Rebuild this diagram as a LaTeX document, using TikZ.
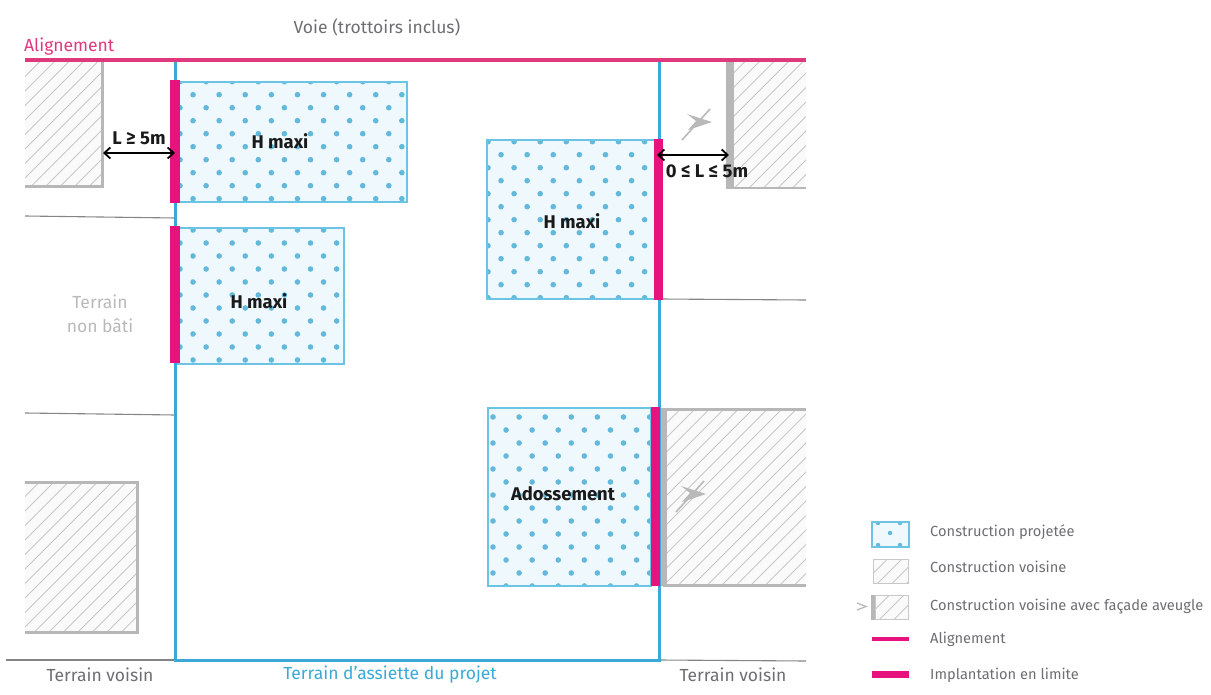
\documentclass[tikz,border=0pt]{standalone}
\usepackage{xcolor}
\usepackage{fontspec}
\setmainfont{Fira Sans}
\usetikzlibrary{arrows.meta}

\definecolor{rosealign}{HTML}{DF387C}
\definecolor{roselimit}{HTML}{E6137F}
\definecolor{bleulimit}{HTML}{3AA9D6}
\definecolor{bleubox}{HTML}{6CC4E4}
\definecolor{bleufill}{HTML}{EFF8FC}
\definecolor{bleudot}{HTML}{63B9DC}
\definecolor{grisbord}{HTML}{B7B7B7}
\definecolor{grishatch}{HTML}{C8C8C8}
\definecolor{gristexte}{HTML}{6D6E71}
\definecolor{grisclair}{HTML}{B9B9B9}
\definecolor{grisligne}{HTML}{858585}
\definecolor{noirtexte}{HTML}{1A1A1A}

\tikzset{
    hatchline/.style={draw=grishatch, line width=1pt},
    limitline/.style={draw=grisligne, line width=1.1pt},
    blockbar/.style={fill=roselimit, draw=none},
    facadebar/.style={fill=grisbord, draw=none},
    grisborder/.style={draw=grisbord, line width=3pt},
    boxlabel/.style={font=\fontsize{18.4}{20}\selectfont\bfseries, text=noirtexte, inner sep=0pt},
    planlabel/.style={font=\fontsize{17.5}{24}\selectfont, text=gristexte, inner sep=0pt},
    legendlabel/.style={font=\fontsize{14.65}{16}\selectfont, text=gristexte, inner sep=0pt, anchor=west},
    dimarrow/.style={draw=black, line width=1.8pt, {Straight Barb[length=6pt,width=11pt]}-{Straight Barb[length=6pt,width=11pt]}}
}

% x1 y1 x2 y2 : hatched block
\newcommand{\hatchblock}[4]{
    \fill[gray!4] (#1,#2) rectangle (#3,#4);
    \begin{scope}
        \clip (#1,#2) rectangle (#3,#4);
        \foreach \k in {0,...,32} {
            \pgfmathsetmacro{\hx}{#1 + \k*14.5}
            \draw[hatchline] (\hx,#2) -- +(-220,220);
        }
    \end{scope}
}

% x1 y1 x2 y2 xstart ystart : dotted block
\newcommand{\dotblock}[6]{
    \fill[bleufill] (#1,#2) rectangle (#3,#4);
    \begin{scope}
        \clip (#1,#2) rectangle (#3,#4);
        \foreach \r in {0,...,15} {
            \foreach \c in {0,...,9} {
                \pgfmathsetmacro{\dx}{#5 + \c*26.1 + 13.05*mod(\r,2)}
                \pgfmathsetmacro{\dy}{#6 + \r*13}
                \fill[bleudot] (\dx,\dy) circle (2.8);
            }
        }
    \end{scope}
    \draw[bleubox, line width=1.1pt] (#1,#2) rectangle (#3,#4);
}

% dx dy : blind facade sign
\newcommand{\blindeye}[2]{
    \begin{scope}[shift={(#1,#2)}]
        \draw[grisclair, line width=1.6pt] (682,140) -- (710,109);
        \fill[grisclair] (712,122) -- (687,114) -- (696,121) -- (688,130) -- cycle;
    \end{scope}
}

\begin{document}
\begin{tikzpicture}[x=1pt, y=-1pt]
    \useasboundingbox (0,0) rectangle (1211,695);

    \hatchblock{25}{62}{102}{186}
    \draw[grisborder] (102,61) -- (102,187) -- (25,187);
    \hatchblock{732}{60}{806}{188}
    \draw[draw=grisbord, line width=1.5pt] (730,188) -- (806,188);
    \hatchblock{666}{409}{806}{585}
    \draw[grisborder] (806,409) -- (663,409);
    \draw[grisborder] (806,585) -- (663,585);
    \hatchblock{25}{482}{137}{632}
    \draw[grisborder] (25,482) -- (137,482) -- (137,632) -- (25,632);

    \fill[facadebar] (726,60) rectangle (734,189);
    \fill[facadebar] (660,408) rectangle (667,586);

    \dotblock{178}{82}{407}{202}{180}{81.7}
    \dotblock{178}{228}{344}{364}{180}{217}
    \dotblock{487}{140}{655}{299}{488}{141.7}
    \dotblock{488}{408}{651}{586}{493}{417}

    \draw[limitline] (25,216) -- (175,218);
    \draw[limitline] (25,413) -- (175,415);
    \draw[limitline] (660,299) -- (806,300);
    \draw[limitline] (6,660) -- (175,660);
    \draw[limitline] (659,660) -- (806,661);

    \draw[bleulimit, line width=3pt] (175,60) rectangle (659,660);
    \draw[rosealign, line width=3.6pt] (25,60) -- (806,60);

    \fill[blockbar] (170,80) rectangle (180,203);
    \fill[blockbar] (170,226) rectangle (180,363);
    \fill[blockbar] (654,139) rectangle (663,300);
    \fill[blockbar] (651,407) rectangle (660,586);

    \blindeye{0}{0}
    \blindeye{-6}{372}

    \coordinate (leftwall) at (103,153);
    \coordinate (leftlimit) at (175,153);
    \coordinate (rightlimit) at (657,155);
    \coordinate (rightwall) at (729,155);
    \draw[dimarrow] (leftwall) -- (leftlimit);
    \draw[dimarrow] (rightlimit) -- (rightwall);

    \node[planlabel] (voie) at (377,27) {Voie (trottoirs inclus)};
    \node[planlabel, text=rosealign, anchor=west] (alignement) at (24,47) {Alignement};
    \node[planlabel, text=grisclair, align=center] (nonbati) at (100,314) {Terrain\\non bâti};
    \node[planlabel] (voisinleft) at (100,675) {Terrain voisin};
    \node[planlabel, text=bleulimit] (assiette) at (390,675) {Terrain d’assiette du projet};
    \node[planlabel] (voisinright) at (733,675) {Terrain voisin};

    \node[boxlabel] (hmaxia) at (280,141) {H maxi};
    \node[boxlabel] (hmaxib) at (259,301) {H maxi};
    \node[boxlabel] (hmaxic) at (572,221) {H maxi};
    \node[boxlabel] (adossement) at (563,494) {Adossement};
    \node[boxlabel] (distleft) at (139,138) {L ≥ 5m};
    \node[boxlabel] (distright) at (707,171) {0 ≤ L ≤ 5m};

    \fill[bleufill] (872,522) rectangle (909,547);
    \begin{scope}
        \clip (872,522) rectangle (909,547);
        \foreach \dotx/\doty in {878/523, 900/523, 890/533, 878/545, 900/545} {
            \fill[bleudot] (\dotx,\doty) circle (2.2);
        }
    \end{scope}
    \draw[bleubox, line width=1.1pt] (872,522) rectangle (909,547);

    \hatchblock{873}{559}{908}{583}
    \draw[grishatch, line width=.9pt] (873,559) rectangle (908,583);
    \hatchblock{875}{595}{908}{619}
    \draw[grishatch, line width=.9pt] (875,595) rectangle (908,619);
    \fill[facadebar] (871,595) rectangle (875,620);
    \draw[grisclair, line width=1.3pt] (857,603) -- (866,606.5) -- (857,610);

    \draw[roselimit, line width=3.6pt] (872,639) -- (909,639);
    \fill[blockbar] (872,671) rectangle (909,678);

    \node[legendlabel] (legenda) at (930,532) {Construction projetée};
    \node[legendlabel] (legendb) at (930,567) {Construction voisine};
    \node[legendlabel] (legendc) at (930,607) {Construction voisine avec façade aveugle};
    \node[legendlabel] (legendd) at (930,639) {Alignement};
    \node[legendlabel] (legende) at (930,675) {Implantation en limite};
\end{tikzpicture}
\end{document}
